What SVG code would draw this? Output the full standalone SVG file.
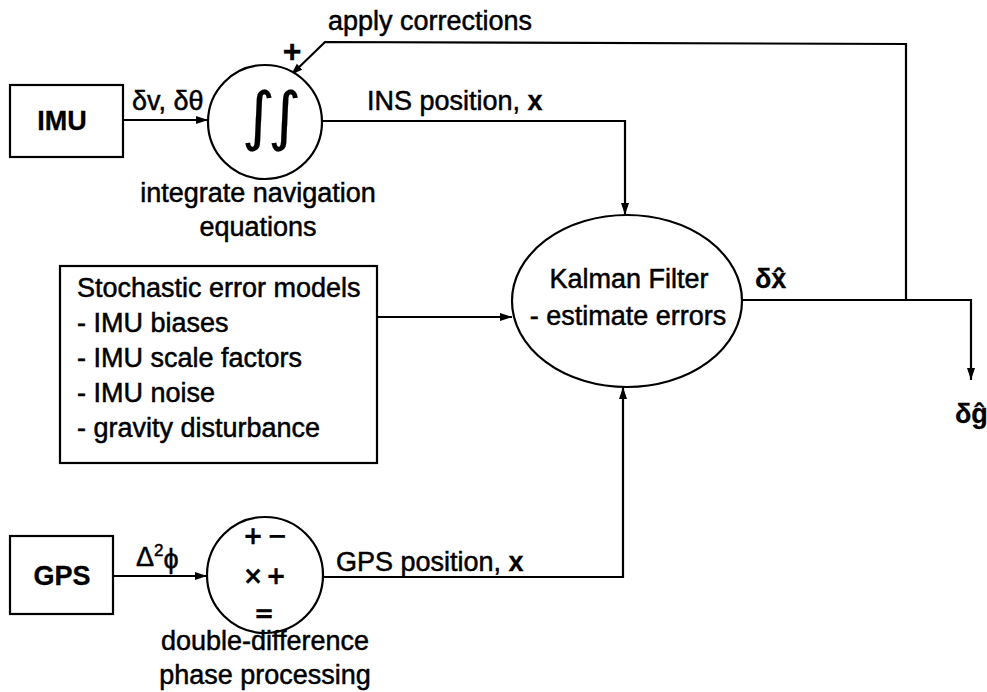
<svg xmlns="http://www.w3.org/2000/svg" width="987" height="692" viewBox="0 0 987 692">
<style>
  text { font-family: "Liberation Sans", Arial, "DejaVu Sans", sans-serif; font-size: 27px; fill: #000; stroke: #000; stroke-width: 0.5px; }
  .b { font-weight: bold; stroke-width: 0.3px; }
  .c { text-anchor: middle; }
  .shape { fill: #fff; stroke: #000; stroke-width: 2.2; }
  .wire { fill: none; stroke: #000; stroke-width: 2.2; }
  .sym { font-family: "DejaVu Sans", sans-serif; font-weight: bold; font-size: 24px; text-anchor: middle; stroke-width: 0.3px; }
</style>
<defs>
  <marker id="ah" viewBox="0 0 12 10" refX="12" refY="5" markerWidth="12" markerHeight="10" markerUnits="userSpaceOnUse" orient="auto">
    <path d="M0,1 L12,5 L0,9 Z" fill="#000"/>
  </marker>
</defs>
<rect width="987" height="692" fill="#fff"/>

<g id="connectors">
  <line class="wire" x1="123" y1="120" x2="208" y2="120" marker-end="url(#ah)"/>
  <polyline class="wire" points="322,121 625,121 625,215" marker-end="url(#ah)"/>
  <line class="wire" x1="377" y1="317" x2="512" y2="317" marker-end="url(#ah)"/>
  <line class="wire" x1="113" y1="576" x2="207" y2="576" marker-end="url(#ah)"/>
  <polyline class="wire" points="323,577 623,577 623,387" marker-end="url(#ah)"/>
  <polyline class="wire" points="743,300 971,300 971,380" marker-end="url(#ah)"/>
  <polyline class="wire" points="906,300 906,44 325,42 291,75" marker-end="url(#ah)"/>
  <text x="328" y="30">apply corrections</text>
  <text x="292" y="62" class="b c" style="font-size:32px">+</text>
  <text x="132" y="110">δv, δθ</text>
  <text x="367" y="110">INS position, <tspan class="b">x</tspan></text>
  <text x="136" y="566">Δ<tspan font-size="17" dy="-10">2</tspan><tspan dy="12">ϕ</tspan></text>
  <text x="336" y="571">GPS position, <tspan class="b">x</tspan></text>
  <text x="755" y="288" class="b">δx̂</text>
  <text x="955" y="423" class="b">δĝ</text>
</g>

<g id="imu">
  <rect class="shape" x="10" y="85" width="113" height="72"/>
  <text x="62" y="130" class="b c">IMU</text>
</g>

<g id="integrator">
  <circle class="shape" cx="265" cy="122" r="57"/>
  <text x="268" y="138" class="c" style="font-family:'DejaVu Sans',sans-serif;font-size:64px;letter-spacing:-7px;stroke-width:0.2px">∫∫</text>
  <text x="258" y="202" class="c">integrate navigation</text>
  <text x="258" y="236" class="c">equations</text>
</g>

<g id="error-models">
  <rect class="shape" x="60" y="266" width="317" height="197"/>
  <text x="77" y="297">Stochastic error models</text>
  <text x="77" y="332">- IMU biases</text>
  <text x="77" y="367">- IMU scale factors</text>
  <text x="77" y="402">- IMU noise</text>
  <text x="77" y="437">- gravity disturbance</text>
</g>

<g id="kalman">
  <ellipse class="shape" cx="627" cy="301" rx="115" ry="86"/>
  <text x="629" y="288" class="c">Kalman Filter</text>
  <text x="628" y="325" class="c">- estimate errors</text>
</g>

<g id="gps">
  <rect class="shape" x="10" y="536" width="103" height="78"/>
  <text x="62" y="585" class="b c">GPS</text>
</g>

<g id="double-difference">
  <circle class="shape" cx="265" cy="575" r="58"/>
  <text x="253" y="544" class="sym">+</text>
  <text x="277" y="544" class="sym">−</text>
  <text x="253" y="584" class="sym">×</text>
  <text x="276" y="584" class="sym">+</text>
  <text x="264" y="622" class="sym">=</text>
  <text x="265" y="650" class="c">double-difference</text>
  <text x="265" y="684" class="c">phase processing</text>
</g>
</svg>
